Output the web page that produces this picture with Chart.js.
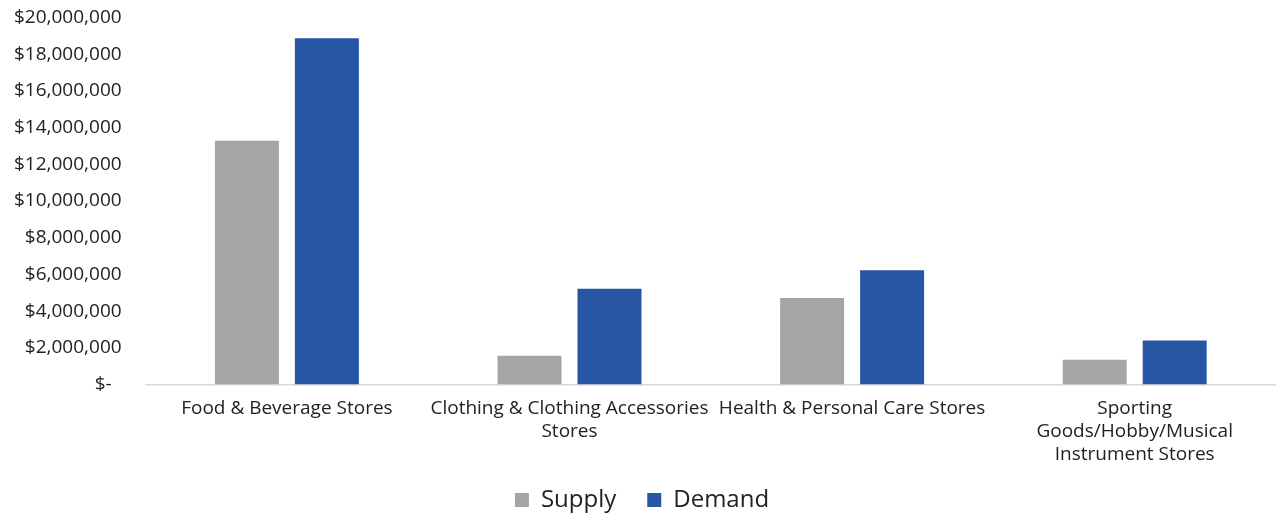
<!DOCTYPE html>
<html>
<head>
<meta charset="utf-8">
<script src="https://cdn.jsdelivr.net/npm/chart.js@4/dist/chart.umd.min.js"></script>
<style>
  html, body { margin: 0; padding: 0; background: #fff; }
  #wrap { width: 1276px; height: 513px; position: relative; }
</style>
</head>
<body>
<div id="wrap"><canvas id="storeChart"></canvas></div>
<script>
// categorias e valores
const categories = [
    'Food & Beverage Stores',
    ['Clothing & Clothing Accessories', 'Stores'],
    'Health & Personal Care Stores',
    ['Sporting', 'Goods/Hobby/Musical', 'Instrument Stores']
]
const supply = [13280000, 1570000, 4720000, 1360000]
const demand = [18860000, 5220000, 6230000, 2400000]
const yTicks = [0, 2000000, 4000000, 6000000, 8000000, 10000000, 12000000, 14000000, 16000000, 18000000, 20000000]

Chart.defaults.font.family = '"Open Sans", Lato, sans-serif'
Chart.defaults.color = '#222'

// legenda mais baixa e compacta, mantendo o espaco entre os itens
const legendFit = {
    id: 'legendFit',
    beforeInit(chart) {
        const origFit = chart.legend.fit
        chart.legend.fit = function () {
            origFit.bind(chart.legend)()
            this.height -= 19
        }
    },
    afterLayout(chart) {
        chart.legend.top -= 10
    }
}

let ctx = document.getElementById('storeChart').getContext('2d')
let chart = new Chart(ctx, {
    type: 'bar',
    data: {
        labels: categories,
        datasets: [
            {
                label: 'Supply',
                data: supply,
                backgroundColor: '#A5A5A5'
            },
            {
                label: 'Demand',
                data: demand,
                backgroundColor: '#2756A5'
            }
        ]
    },
    options: {
        responsive: true,
        maintainAspectRatio: false,
        animation: false,
        categoryPercentage: 0.566,
        barPercentage: 0.8,
        layout: { padding: { left: 8, top: 0, right: 0, bottom: 0 } },
        plugins: {
            legend: {
                position: 'bottom',
                labels: {
                    boxWidth: 14,
                    boxHeight: 14,
                    padding: 31,
                    font: { size: 24 },
                    color: '#222'
                }
            },
            tooltip: { enabled: false }
        },
        scales: {
            x: {
                grid: { display: false, drawTicks: true, tickLength: 12 },
                border: { color: '#d9d9d9', width: 1.5 },
                ticks: {
                    autoSkip: false,
                    maxRotation: 0,
                    minRotation: 0,
                    padding: 1,
                    font: { size: 19, lineHeight: 1.2 },
                    color: '#222'
                }
            },
            y: {
                min: 0,
                max: 20000000,
                afterBuildTicks: axis => { axis.ticks = yTicks.map(v => ({ value: v })) },
                grid: { display: false, drawTicks: true, tickLength: 18 },
                border: { display: false },
                ticks: {
                    padding: 6,
                    font: { size: 19 },
                    color: '#222',
                    callback: v => v === 0 ? '$-  ' : '$' + v.toLocaleString('en-US')
                }
            }
        }
    },
    plugins: [legendFit]
})
</script>
</body>
</html>
